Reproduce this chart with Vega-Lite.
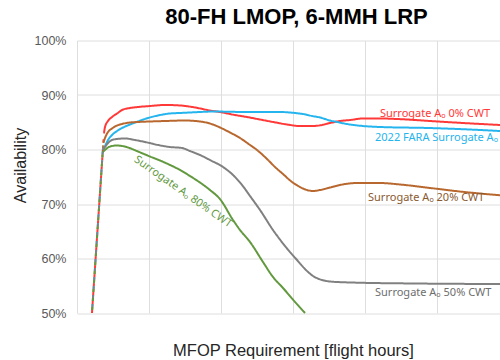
{
  "$schema": "https://vega.github.io/schema/vega-lite/v6.json",
  "width": 423,
  "height": 272.5,
  "autosize": {"type": "none"},
  "padding": {"left": 77, "top": 40.5, "right": 0, "bottom": 47},
  "background": "white",
  "title": {
    "text": "80-FH LMOP, 6-MMH LRP",
    "font": "Liberation Sans",
    "fontSize": 22,
    "fontWeight": "bold",
    "color": "#000000",
    "anchor": "middle",
    "frame": "group",
    "baseline": "alphabetic",
    "offset": 13,
    "dx": 8,
    "dy": 24
  },
  "config": {"view": {"stroke": null}},
  "datasets": {
    "lines": [
      {"s": "0%", "seg": "d1", "x": 2.08, "y": 50},
      {"s": "0%", "seg": "d1", "x": 3.75, "y": 83.03},
      {"s": "FARA", "seg": "d3", "x": 2.08, "y": 50},
      {"s": "FARA", "seg": "d3", "x": 3.59, "y": 79.91},
      {"s": "20%", "seg": "d2", "x": 2.08, "y": 50},
      {"s": "20%", "seg": "d2", "x": 3.66, "y": 81.2},
      {"s": "50%", "seg": "d3", "x": 2.08, "y": 50},
      {"s": "50%", "seg": "d3", "x": 3.59, "y": 79.91},
      {"s": "80%", "seg": "d2", "x": 2.08, "y": 50},
      {"s": "80%", "seg": "d2", "x": 3.57, "y": 79.54},

      {"s": "0%", "seg": "solid", "x": 3.75, "y": 83.03},
      {"s": "0%", "seg": "solid", "x": 3.89, "y": 84.13},
      {"s": "0%", "seg": "solid", "x": 4.31, "y": 85.23},
      {"s": "0%", "seg": "solid", "x": 4.86, "y": 85.96},
      {"s": "0%", "seg": "solid", "x": 5.56, "y": 86.6},
      {"s": "0%", "seg": "solid", "x": 6.25, "y": 87.25},
      {"s": "0%", "seg": "solid", "x": 7.36, "y": 87.61},
      {"s": "0%", "seg": "solid", "x": 8.47, "y": 87.8},
      {"s": "0%", "seg": "solid", "x": 10.14, "y": 87.98},
      {"s": "0%", "seg": "solid", "x": 12.22, "y": 88.17},
      {"s": "0%", "seg": "solid", "x": 14.31, "y": 88.08},
      {"s": "0%", "seg": "solid", "x": 16.39, "y": 87.71},
      {"s": "0%", "seg": "solid", "x": 18.47, "y": 87.16},
      {"s": "0%", "seg": "solid", "x": 19.86, "y": 86.88},
      {"s": "0%", "seg": "solid", "x": 21.94, "y": 86.33},
      {"s": "0%", "seg": "solid", "x": 23.61, "y": 85.96},
      {"s": "0%", "seg": "solid", "x": 25.42, "y": 85.5},
      {"s": "0%", "seg": "solid", "x": 27.22, "y": 85.05},
      {"s": "0%", "seg": "solid", "x": 29.17, "y": 84.59},
      {"s": "0%", "seg": "solid", "x": 30.97, "y": 84.31},
      {"s": "0%", "seg": "solid", "x": 32.78, "y": 84.31},
      {"s": "0%", "seg": "solid", "x": 34.03, "y": 84.5},
      {"s": "0%", "seg": "solid", "x": 35.14, "y": 84.86},
      {"s": "0%", "seg": "solid", "x": 36.53, "y": 85.23},
      {"s": "0%", "seg": "solid", "x": 37.92, "y": 85.41},
      {"s": "0%", "seg": "solid", "x": 39.72, "y": 85.69},
      {"s": "0%", "seg": "solid", "x": 42.08, "y": 85.69},
      {"s": "0%", "seg": "solid", "x": 44.44, "y": 85.6},
      {"s": "0%", "seg": "solid", "x": 49.03, "y": 85.23},
      {"s": "0%", "seg": "solid", "x": 53.61, "y": 84.86},
      {"s": "0%", "seg": "solid", "x": 58.75, "y": 84.5},

      {"s": "FARA", "seg": "solid", "x": 3.59, "y": 79.91},
      {"s": "FARA", "seg": "solid", "x": 3.89, "y": 80.64},
      {"s": "FARA", "seg": "solid", "x": 4.31, "y": 81.74},
      {"s": "FARA", "seg": "solid", "x": 4.86, "y": 82.66},
      {"s": "FARA", "seg": "solid", "x": 5.56, "y": 83.39},
      {"s": "FARA", "seg": "solid", "x": 6.25, "y": 83.94},
      {"s": "FARA", "seg": "solid", "x": 7.36, "y": 84.59},
      {"s": "FARA", "seg": "solid", "x": 8.47, "y": 85.14},
      {"s": "FARA", "seg": "solid", "x": 9.86, "y": 85.78},
      {"s": "FARA", "seg": "solid", "x": 11.25, "y": 86.24},
      {"s": "FARA", "seg": "solid", "x": 12.92, "y": 86.61},
      {"s": "FARA", "seg": "solid", "x": 14.31, "y": 86.7},
      {"s": "FARA", "seg": "solid", "x": 17.08, "y": 86.88},
      {"s": "FARA", "seg": "solid", "x": 18.89, "y": 86.97},
      {"s": "FARA", "seg": "solid", "x": 23.61, "y": 86.88},
      {"s": "FARA", "seg": "solid", "x": 28.19, "y": 86.88},
      {"s": "FARA", "seg": "solid", "x": 30.28, "y": 86.7},
      {"s": "FARA", "seg": "solid", "x": 31.39, "y": 86.51},
      {"s": "FARA", "seg": "solid", "x": 32.64, "y": 86.15},
      {"s": "FARA", "seg": "solid", "x": 33.75, "y": 85.87},
      {"s": "FARA", "seg": "solid", "x": 35.14, "y": 85.32},
      {"s": "FARA", "seg": "solid", "x": 36.11, "y": 85.05},
      {"s": "FARA", "seg": "solid", "x": 37.5, "y": 84.68},
      {"s": "FARA", "seg": "solid", "x": 39.72, "y": 84.31},
      {"s": "FARA", "seg": "solid", "x": 42.08, "y": 84.13},
      {"s": "FARA", "seg": "solid", "x": 49.03, "y": 83.94},
      {"s": "FARA", "seg": "solid", "x": 55.97, "y": 83.58},
      {"s": "FARA", "seg": "solid", "x": 58.75, "y": 83.39},

      {"s": "20%", "seg": "solid", "x": 3.66, "y": 81.2},
      {"s": "20%", "seg": "solid", "x": 3.89, "y": 82.11},
      {"s": "20%", "seg": "solid", "x": 4.31, "y": 83.21},
      {"s": "20%", "seg": "solid", "x": 4.86, "y": 83.85},
      {"s": "20%", "seg": "solid", "x": 5.56, "y": 84.4},
      {"s": "20%", "seg": "solid", "x": 6.25, "y": 84.68},
      {"s": "20%", "seg": "solid", "x": 7.36, "y": 84.95},
      {"s": "20%", "seg": "solid", "x": 8.47, "y": 85.05},
      {"s": "20%", "seg": "solid", "x": 10.14, "y": 85.14},
      {"s": "20%", "seg": "solid", "x": 12.22, "y": 85.23},
      {"s": "20%", "seg": "solid", "x": 15.0, "y": 85.32},
      {"s": "20%", "seg": "solid", "x": 17.08, "y": 85.14},
      {"s": "20%", "seg": "solid", "x": 18.47, "y": 84.77},
      {"s": "20%", "seg": "solid", "x": 19.86, "y": 84.04},
      {"s": "20%", "seg": "solid", "x": 21.25, "y": 83.12},
      {"s": "20%", "seg": "solid", "x": 22.64, "y": 82.11},
      {"s": "20%", "seg": "solid", "x": 24.03, "y": 80.83},
      {"s": "20%", "seg": "solid", "x": 25.0, "y": 79.91},
      {"s": "20%", "seg": "solid", "x": 26.39, "y": 78.26},
      {"s": "20%", "seg": "solid", "x": 27.5, "y": 76.79},
      {"s": "20%", "seg": "solid", "x": 28.61, "y": 75.5},
      {"s": "20%", "seg": "solid", "x": 29.86, "y": 74.04},
      {"s": "20%", "seg": "solid", "x": 30.97, "y": 73.12},
      {"s": "20%", "seg": "solid", "x": 31.94, "y": 72.57},
      {"s": "20%", "seg": "solid", "x": 32.78, "y": 72.39},
      {"s": "20%", "seg": "solid", "x": 33.75, "y": 72.57},
      {"s": "20%", "seg": "solid", "x": 35.14, "y": 73.03},
      {"s": "20%", "seg": "solid", "x": 36.53, "y": 73.49},
      {"s": "20%", "seg": "solid", "x": 38.89, "y": 73.85},
      {"s": "20%", "seg": "solid", "x": 42.08, "y": 73.85},
      {"s": "20%", "seg": "solid", "x": 44.86, "y": 73.58},
      {"s": "20%", "seg": "solid", "x": 49.03, "y": 72.94},
      {"s": "20%", "seg": "solid", "x": 53.19, "y": 72.29},
      {"s": "20%", "seg": "solid", "x": 58.75, "y": 71.6},

      {"s": "50%", "seg": "solid", "x": 3.59, "y": 79.91},
      {"s": "50%", "seg": "solid", "x": 3.89, "y": 80.46},
      {"s": "50%", "seg": "solid", "x": 4.31, "y": 81.19},
      {"s": "50%", "seg": "solid", "x": 4.86, "y": 81.74},
      {"s": "50%", "seg": "solid", "x": 5.56, "y": 81.93},
      {"s": "50%", "seg": "solid", "x": 6.67, "y": 82.02},
      {"s": "50%", "seg": "solid", "x": 8.06, "y": 81.74},
      {"s": "50%", "seg": "solid", "x": 9.44, "y": 81.38},
      {"s": "50%", "seg": "solid", "x": 11.25, "y": 80.83},
      {"s": "50%", "seg": "solid", "x": 12.92, "y": 80.46},
      {"s": "50%", "seg": "solid", "x": 14.58, "y": 80.28},
      {"s": "50%", "seg": "solid", "x": 15.69, "y": 79.72},
      {"s": "50%", "seg": "solid", "x": 17.08, "y": 78.99},
      {"s": "50%", "seg": "solid", "x": 18.47, "y": 78.07},
      {"s": "50%", "seg": "solid", "x": 20.28, "y": 76.79},
      {"s": "50%", "seg": "solid", "x": 21.67, "y": 75.32},
      {"s": "50%", "seg": "solid", "x": 22.92, "y": 73.49},
      {"s": "50%", "seg": "solid", "x": 24.03, "y": 71.47},
      {"s": "50%", "seg": "solid", "x": 25.42, "y": 68.9},
      {"s": "50%", "seg": "solid", "x": 27.22, "y": 65.23},
      {"s": "50%", "seg": "solid", "x": 28.89, "y": 62.29},
      {"s": "50%", "seg": "solid", "x": 30.56, "y": 59.72},
      {"s": "50%", "seg": "solid", "x": 31.67, "y": 58.07},
      {"s": "50%", "seg": "solid", "x": 32.78, "y": 56.79},
      {"s": "50%", "seg": "solid", "x": 34.03, "y": 56.06},
      {"s": "50%", "seg": "solid", "x": 35.14, "y": 55.78},
      {"s": "50%", "seg": "solid", "x": 37.92, "y": 55.6},
      {"s": "50%", "seg": "solid", "x": 47.22, "y": 55.41},
      {"s": "50%", "seg": "solid", "x": 58.75, "y": 55.32},

      {"s": "80%", "seg": "solid", "x": 3.57, "y": 79.54},
      {"s": "80%", "seg": "solid", "x": 3.89, "y": 79.91},
      {"s": "80%", "seg": "solid", "x": 4.31, "y": 80.37},
      {"s": "80%", "seg": "solid", "x": 4.86, "y": 80.64},
      {"s": "80%", "seg": "solid", "x": 5.56, "y": 80.73},
      {"s": "80%", "seg": "solid", "x": 6.25, "y": 80.64},
      {"s": "80%", "seg": "solid", "x": 7.08, "y": 80.37},
      {"s": "80%", "seg": "solid", "x": 8.47, "y": 79.63},
      {"s": "80%", "seg": "solid", "x": 10.14, "y": 78.71},
      {"s": "80%", "seg": "solid", "x": 11.53, "y": 77.98},
      {"s": "80%", "seg": "solid", "x": 12.92, "y": 77.16},
      {"s": "80%", "seg": "solid", "x": 14.31, "y": 76.24},
      {"s": "80%", "seg": "solid", "x": 15.69, "y": 75.14},
      {"s": "80%", "seg": "solid", "x": 17.08, "y": 73.94},
      {"s": "80%", "seg": "solid", "x": 18.47, "y": 72.57},
      {"s": "80%", "seg": "solid", "x": 19.86, "y": 70.9},
      {"s": "80%", "seg": "solid", "x": 21.67, "y": 67.06},
      {"s": "80%", "seg": "solid", "x": 22.64, "y": 65.23},
      {"s": "80%", "seg": "solid", "x": 24.03, "y": 63.03},
      {"s": "80%", "seg": "solid", "x": 25.83, "y": 59.36},
      {"s": "80%", "seg": "solid", "x": 27.22, "y": 56.61},
      {"s": "80%", "seg": "solid", "x": 28.61, "y": 54.59},
      {"s": "80%", "seg": "solid", "x": 30.28, "y": 52.02},
      {"s": "80%", "seg": "solid", "x": 31.67, "y": 50.0}
    ],
    "labels": [
      {"s": "0%", "label": "Surrogate Aₒ 0% CWT", "x": 42.08, "y": 85.96},
      {"s": "FARA", "label": "2022 FARA Surrogate Aₒ", "x": 41.39, "y": 81.56},
      {"s": "20%", "label": "Surrogate Aₒ 20% CWT", "x": 40.42, "y": 70.55},
      {"s": "50%", "label": "Surrogate Aₒ 50% CWT", "x": 41.39, "y": 53.1}
    ],
    "rotated": [
      {"s": "80%", "label": "Surrogate Aₒ 80% CWT", "x": 14.72, "y": 72.2}
    ]
  },
  "layer": [
    {
      "data": {"name": "lines"},
      "mark": {"type": "line", "strokeWidth": 2, "interpolate": "monotone"},
      "encoding": {
        "x": {
          "field": "x", "type": "quantitative",
          "scale": {"domain": [0, 58.75], "nice": false, "zero": false},
          "axis": {
            "values": [0, 10, 20, 30, 40, 50],
            "labels": false, "ticks": false, "domain": false,
            "grid": true, "gridColor": "#dedede", "gridWidth": 1,
            "title": "MFOP Requirement [flight hours]",
            "titleFont": "Liberation Sans", "titleFontSize": 16.5, "titleFontWeight": "normal",
            "titleColor": "#262626",
            "titleX": 216, "titleY": 42, "titleBaseline": "alphabetic", "titleAlign": "center"
          }
        },
        "y": {
          "field": "y", "type": "quantitative",
          "scale": {"domain": [50, 100], "nice": false, "zero": false},
          "axis": {
            "values": [50, 60, 70, 80, 90, 100],
            "labelExpr": "datum.value + '%'",
            "labelFont": "Liberation Sans", "labelFontSize": 12.5, "labelColor": "#595959",
            "labelPadding": 11,
            "ticks": false, "domain": false,
            "grid": true, "gridColor": "#dedede", "gridWidth": 1,
            "title": "Availability",
            "titleFont": "Liberation Sans", "titleFontSize": 16, "titleFontWeight": "normal",
            "titleColor": "#262626",
            "titleX": -57, "titleY": 124.5, "titleAngle": -90,
            "titleAlign": "center", "titleBaseline": "middle"
          }
        },
        "color": {
          "field": "s", "type": "nominal",
          "scale": {
            "domain": ["0%", "FARA", "20%", "50%", "80%"],
            "range": ["#ff3838", "#24b4ee", "#b8682f", "#808080", "#62993f"]
          },
          "legend": null
        },
        "strokeDash": {
          "field": "seg", "type": "nominal",
          "scale": {
            "domain": ["solid", "d1", "d2", "d3"],
            "range": [[1, 0], [3, 6], [0, 3, 3, 3], [0, 6, 3, 0]]
          },
          "legend": null
        }
      }
    },
    {
      "data": {"name": "labels"},
      "mark": {"type": "text", "font": "Noto Sans", "fontSize": 11, "align": "left", "baseline": "alphabetic"},
      "encoding": {
        "x": {"field": "x", "type": "quantitative"},
        "y": {"field": "y", "type": "quantitative"},
        "text": {"field": "label"},
        "color": {"field": "s", "type": "nominal", "scale": {"domain": ["0%", "FARA", "20%", "50%", "80%"], "range": ["#ff3838", "#24b4ee", "#8a5a30", "#6e6e6e", "#62993f"]}, "legend": null}
      }
    },
    {
      "data": {"name": "rotated"},
      "mark": {"type": "text", "font": "Noto Sans", "fontSize": 11, "align": "center", "baseline": "middle", "angle": 35, "color": "#62993f"},
      "encoding": {
        "x": {"field": "x", "type": "quantitative"},
        "y": {"field": "y", "type": "quantitative"},
        "text": {"field": "label"}
      }
    }
  ],
  "resolve": {"scale": {"color": "independent"}}
}
